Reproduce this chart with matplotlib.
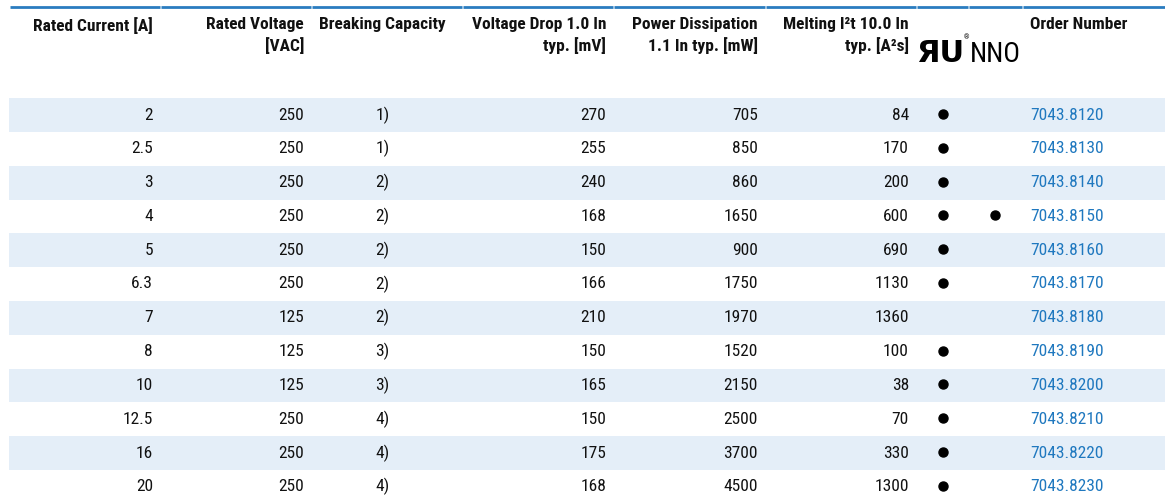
import matplotlib
matplotlib.use("Agg")
import matplotlib.pyplot as plt
from matplotlib.patches import Rectangle

# table data
headers = ["Rated Current [A]", "Rated Voltage\n[VAC]", "Breaking Capacity",
           "Voltage Drop 1.0 In\ntyp. [mV]", "Power Dissipation\n1.1 In typ. [mW]",
           "Melting I²t 10.0 In\ntyp. [A²s]", "", "", "Order Number"]
current = ["2", "2.5", "3", "4", "5", "6.3", "7", "8", "10", "12.5", "16", "20"]
voltage = [250, 250, 250, 250, 250, 250, 125, 125, 125, 250, 250, 250]
breaking = ["1)", "1)", "2)", "2)", "2)", "2)", "2)", "3)", "3)", "4)", "4)", "4)"]
vdrop = [270, 255, 240, 168, 150, 166, 210, 150, 165, 150, 175, 168]
power = [705, 850, 860, 1650, 900, 1750, 1970, 1520, 2150, 2500, 3700, 4500]
melting = [84, 170, 200, 600, 690, 1130, 1360, 100, 38, 70, 330, 1300]
ul_mark = [1, 1, 1, 1, 1, 1, 0, 1, 1, 1, 1, 1]
nno_mark = [0, 0, 0, 1, 0, 0, 0, 0, 0, 0, 0, 0]
order = ["7043.8120", "7043.8130", "7043.8140", "7043.8150", "7043.8160", "7043.8170",
         "7043.8180", "7043.8190", "7043.8200", "7043.8210", "7043.8220", "7043.8230"]

W, H = 1165, 503
BLUE = "#2a7cc0"
LINK = "#1f78bf"
STRIPE = "#e4eef8"
FONT = ["Roboto Condensed", "DejaVu Sans"]
FS = 12.5

# column edges (pixel units)
edges = [9, 160, 311, 462, 613, 765, 916, 968, 1022, 1165]
row0 = 115
rowh = 33.8

fig = plt.figure(figsize=(W / 100, H / 100), dpi=100)
ax = fig.add_axes([0, 0, 1, 1])
ax.set_xlim(0, W)
ax.set_ylim(H, 0)
ax.axis("off")

# top rule, split per column
for a, b in zip(edges[:-1], edges[1:]):
    ax.plot([a + 0.5, b - 0.5], [7, 7], color=BLUE, lw=2, solid_capstyle="butt")

# header
def col_text(i, y, s, **kw):
    a, b = edges[i], edges[i + 1]
    if i == 2:
        ax.text((a + b) / 2 - 4, y, s, ha="center", **kw)
    elif i == 8:
        ax.text(a + 8, y, s, ha="left", **kw)
    else:
        ax.text(b - 7, y, s, ha="right", **kw)

for i, h in enumerate(headers):
    if h:
        col_text(i, 17, h, va="top", fontsize=FS, fontweight="bold", family=FONT,
                 linespacing=1.4, color="#111111")

# UL recognized mark + NNO
ax.text(940, 53, "ЯU", ha="center", va="center", fontsize=22, fontweight="heavy",
        family=["DejaVu Sans"], color="black")
ax.text(966.5, 38, "®", ha="center", va="center", fontsize=5, family=FONT)
ax.text(995, 54, "NNO", ha="center", va="center", fontsize=20, family=FONT, color="black")

# rows
for r in range(len(current)):
    y = row0 + r * rowh
    if r % 2 == 0:
        ax.add_patch(Rectangle((9, y - rowh / 2), W - 9, rowh, color=STRIPE, lw=0, zorder=0))
    vals = [current[r], str(voltage[r]), breaking[r], str(vdrop[r]), str(power[r]), str(melting[r])]
    for i, v in enumerate(vals):
        col_text(i, y, v, va="center", fontsize=FS, family=FONT, color="#111111")
    if ul_mark[r]:
        ax.plot((edges[6] + edges[7]) / 2 + 1, y - 1, "o", ms=6.5, color="black")
    if nno_mark[r]:
        ax.plot((edges[7] + edges[8]) / 2, y - 1, "o", ms=6.5, color="black")
    col_text(8, y, order[r], va="center", fontsize=FS, family=FONT, color=LINK)

fig.savefig("out.png", dpi=100)
